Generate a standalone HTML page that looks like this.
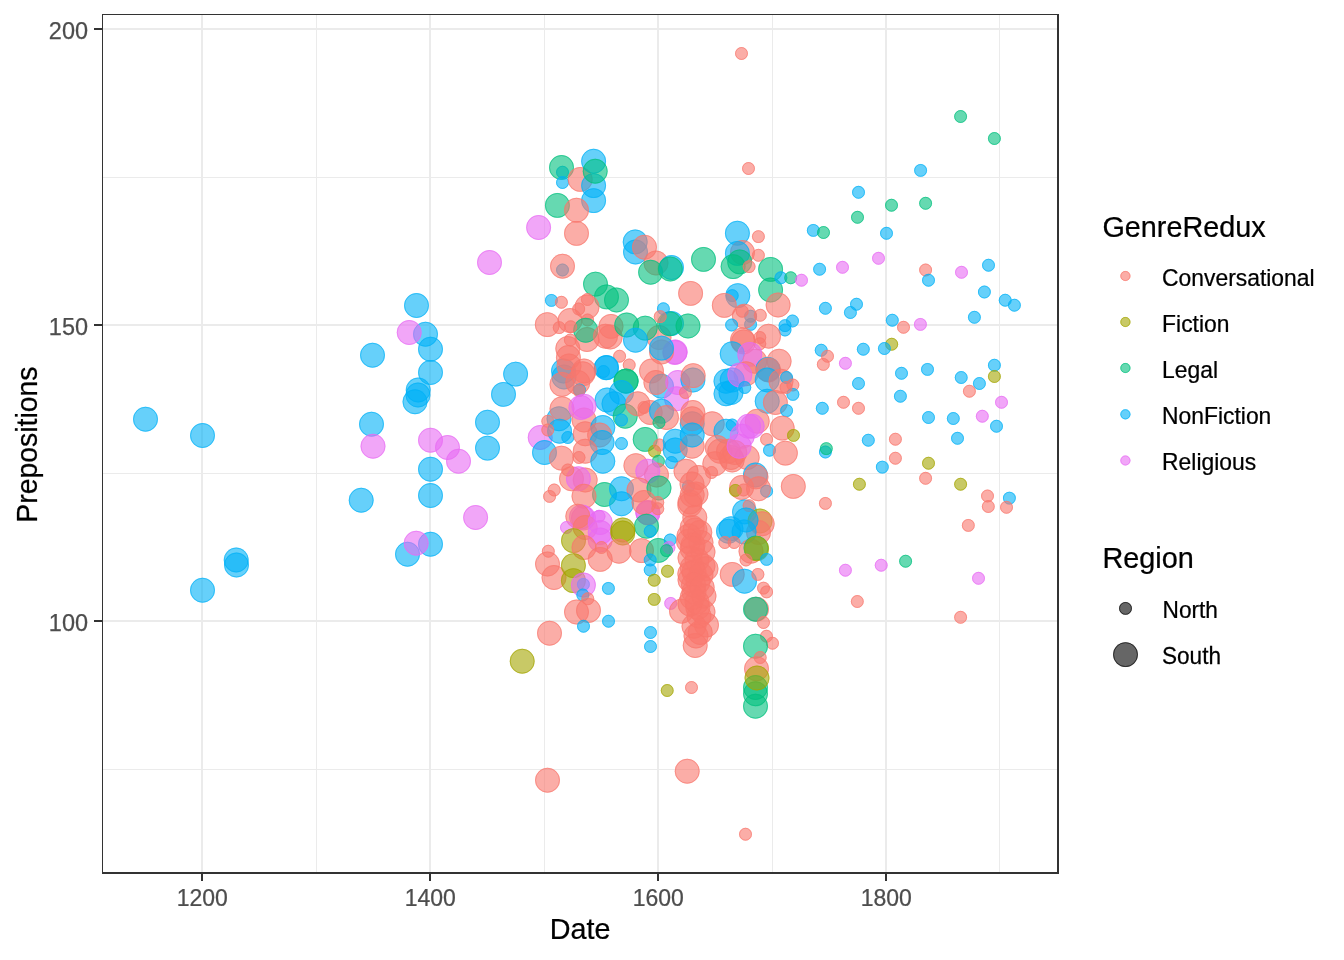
<!DOCTYPE html>
<html lang="en"><head><meta charset="utf-8"><title>Prepositions by Date</title>
<style>html,body{margin:0;padding:0;background:#fff}body{width:1344px;height:960px;overflow:hidden}svg{display:block}text{font-family:"Liberation Sans",Arial,sans-serif}.C{fill:#F8766D;stroke:#F8766D}.F{fill:#A3A500;stroke:#A3A500}.L{fill:#00BF7D;stroke:#00BF7D}.N{fill:#00B0F6;stroke:#00B0F6}.R{fill:#E76BF3;stroke:#E76BF3}.K{fill:#000;stroke:#000}.r{fill:none}.f{stroke:none}</style></head><body>
<svg width="1344" height="960" viewBox="0 0 1344 960">
<rect width="1344" height="960" fill="#fff"/>
<g fill="#EBEBEB" shape-rendering="crispEdges">
<rect x="316" y="15" width="1" height="857"/>
<rect x="544" y="15" width="1" height="857"/>
<rect x="772" y="15" width="1" height="857"/>
<rect x="999" y="15" width="1" height="857"/>
<rect x="103" y="177" width="954" height="1"/>
<rect x="103" y="473" width="954" height="1"/>
<rect x="103" y="769" width="954" height="1"/>
<rect x="201" y="15" width="2" height="857"/>
<rect x="429" y="15" width="2" height="857"/>
<rect x="657" y="15" width="2" height="857"/>
<rect x="885" y="15" width="2" height="857"/>
<rect x="103" y="28" width="954" height="2"/>
<rect x="103" y="324" width="954" height="2"/>
<rect x="103" y="620" width="954" height="2"/>
</g>
<g stroke-width="1" fill-opacity="0.6" stroke-opacity="0.6">
<circle class="N f" cx="145.5" cy="419.2" r="12.45"/><circle class="N r" cx="145.5" cy="419.2" r="11.95"/>
<circle class="N f" cx="202.5" cy="435.5" r="12.45"/><circle class="N r" cx="202.5" cy="435.5" r="11.95"/>
<circle class="N f" cx="416.5" cy="305.5" r="12.45"/><circle class="N r" cx="416.5" cy="305.5" r="11.95"/>
<circle class="N f" cx="425.5" cy="334.2" r="12.45"/><circle class="N r" cx="425.5" cy="334.2" r="11.95"/>
<circle class="R f" cx="409.2" cy="332.5" r="12.45"/><circle class="R r" cx="409.2" cy="332.5" r="11.95"/>
<circle class="N f" cx="430.5" cy="349.2" r="12.45"/><circle class="N r" cx="430.5" cy="349.2" r="11.95"/>
<circle class="N f" cx="372.5" cy="355.2" r="12.45"/><circle class="N r" cx="372.5" cy="355.2" r="11.95"/>
<circle class="N f" cx="430.5" cy="372.5" r="12.45"/><circle class="N r" cx="430.5" cy="372.5" r="11.95"/>
<circle class="N f" cx="418.2" cy="390.0" r="12.45"/><circle class="N r" cx="418.2" cy="390.0" r="11.95"/>
<circle class="N f" cx="418.0" cy="395.0" r="12.45"/><circle class="N r" cx="418.0" cy="395.0" r="11.95"/>
<circle class="N f" cx="415.0" cy="401.8" r="12.45"/><circle class="N r" cx="415.0" cy="401.8" r="11.95"/>
<circle class="N f" cx="371.5" cy="424.2" r="12.45"/><circle class="N r" cx="371.5" cy="424.2" r="11.95"/>
<circle class="R f" cx="373.0" cy="446.2" r="12.45"/><circle class="R r" cx="373.0" cy="446.2" r="11.95"/>
<circle class="R f" cx="430.5" cy="440.2" r="12.45"/><circle class="R r" cx="430.5" cy="440.2" r="11.95"/>
<circle class="R f" cx="447.5" cy="447.5" r="12.45"/><circle class="R r" cx="447.5" cy="447.5" r="11.95"/>
<circle class="N f" cx="430.5" cy="469.2" r="12.45"/><circle class="N r" cx="430.5" cy="469.2" r="11.95"/>
<circle class="N f" cx="430.5" cy="495.5" r="12.45"/><circle class="N r" cx="430.5" cy="495.5" r="11.95"/>
<circle class="N f" cx="361.2" cy="500.2" r="12.45"/><circle class="N r" cx="361.2" cy="500.2" r="11.95"/>
<circle class="N f" cx="236.2" cy="560.0" r="12.45"/><circle class="N r" cx="236.2" cy="560.0" r="11.95"/>
<circle class="N f" cx="236.5" cy="565.0" r="12.45"/><circle class="N r" cx="236.5" cy="565.0" r="11.95"/>
<circle class="N f" cx="202.5" cy="590.2" r="12.45"/><circle class="N r" cx="202.5" cy="590.2" r="11.95"/>
<circle class="N f" cx="430.5" cy="544.2" r="12.45"/><circle class="N r" cx="430.5" cy="544.2" r="11.95"/>
<circle class="N f" cx="407.5" cy="554.2" r="12.45"/><circle class="N r" cx="407.5" cy="554.2" r="11.95"/>
<circle class="R f" cx="416.2" cy="543.2" r="12.45"/><circle class="R r" cx="416.2" cy="543.2" r="11.95"/>
<circle class="R f" cx="458.5" cy="461.2" r="12.45"/><circle class="R r" cx="458.5" cy="461.2" r="11.95"/>
<circle class="R f" cx="475.6" cy="517.5" r="12.45"/><circle class="R r" cx="475.6" cy="517.5" r="11.95"/>
<circle class="R f" cx="489.5" cy="262.5" r="12.45"/><circle class="R r" cx="489.5" cy="262.5" r="11.95"/>
<circle class="R f" cx="538.6" cy="227.5" r="12.45"/><circle class="R r" cx="538.6" cy="227.5" r="11.95"/>
<circle class="N f" cx="515.6" cy="374.1" r="12.45"/><circle class="N r" cx="515.6" cy="374.1" r="11.95"/>
<circle class="N f" cx="503.5" cy="394.4" r="12.45"/><circle class="N r" cx="503.5" cy="394.4" r="11.95"/>
<circle class="N f" cx="487.5" cy="422.2" r="12.45"/><circle class="N r" cx="487.5" cy="422.2" r="11.95"/>
<circle class="N f" cx="487.5" cy="448.1" r="12.45"/><circle class="N r" cx="487.5" cy="448.1" r="11.95"/>
<circle class="N f" cx="562.5" cy="172.2" r="6.45"/><circle class="N r" cx="562.5" cy="172.2" r="5.95"/>
<circle class="L f" cx="561.5" cy="167.5" r="12.45"/><circle class="L r" cx="561.5" cy="167.5" r="11.95"/>
<circle class="N f" cx="562.5" cy="182.5" r="6.45"/><circle class="N r" cx="562.5" cy="182.5" r="5.95"/>
<circle class="C f" cx="580.2" cy="179.4" r="12.45"/><circle class="C r" cx="580.2" cy="179.4" r="11.95"/>
<circle class="N f" cx="593.6" cy="161.2" r="12.45"/><circle class="N r" cx="593.6" cy="161.2" r="11.95"/>
<circle class="N f" cx="593.6" cy="185.6" r="12.45"/><circle class="N r" cx="593.6" cy="185.6" r="11.95"/>
<circle class="L f" cx="595.2" cy="171.2" r="12.45"/><circle class="L r" cx="595.2" cy="171.2" r="11.95"/>
<circle class="N f" cx="593.6" cy="200.6" r="12.45"/><circle class="N r" cx="593.6" cy="200.6" r="11.95"/>
<circle class="L f" cx="557.4" cy="205.4" r="12.45"/><circle class="L r" cx="557.4" cy="205.4" r="11.95"/>
<circle class="C f" cx="576.5" cy="210.2" r="12.45"/><circle class="C r" cx="576.5" cy="210.2" r="11.95"/>
<circle class="C f" cx="576.5" cy="233.4" r="12.45"/><circle class="C r" cx="576.5" cy="233.4" r="11.95"/>
<circle class="N f" cx="635.2" cy="241.9" r="12.45"/><circle class="N r" cx="635.2" cy="241.9" r="11.95"/>
<circle class="N f" cx="635.5" cy="252.0" r="12.45"/><circle class="N r" cx="635.5" cy="252.0" r="11.95"/>
<circle class="C f" cx="644.5" cy="247.2" r="12.45"/><circle class="C r" cx="644.5" cy="247.2" r="11.95"/>
<circle class="C f" cx="656.0" cy="263.0" r="12.45"/><circle class="C r" cx="656.0" cy="263.0" r="11.95"/>
<circle class="N f" cx="562.5" cy="270.0" r="6.45"/><circle class="N r" cx="562.5" cy="270.0" r="5.95"/>
<circle class="C f" cx="562.5" cy="266.2" r="12.45"/><circle class="C r" cx="562.5" cy="266.2" r="11.95"/>
<circle class="L f" cx="595.5" cy="284.1" r="12.45"/><circle class="L r" cx="595.5" cy="284.1" r="11.95"/>
<circle class="L f" cx="606.5" cy="296.9" r="12.45"/><circle class="L r" cx="606.5" cy="296.9" r="11.95"/>
<circle class="L f" cx="616.5" cy="300.0" r="12.45"/><circle class="L r" cx="616.5" cy="300.0" r="11.95"/>
<circle class="N f" cx="551.4" cy="300.4" r="6.45"/><circle class="N r" cx="551.4" cy="300.4" r="5.95"/>
<circle class="C f" cx="561.4" cy="302.3" r="6.45"/><circle class="C r" cx="561.4" cy="302.3" r="5.95"/>
<circle class="C f" cx="547.3" cy="324.6" r="12.45"/><circle class="C r" cx="547.3" cy="324.6" r="11.95"/>
<circle class="C f" cx="559.2" cy="327.6" r="6.45"/><circle class="C r" cx="559.2" cy="327.6" r="5.95"/>
<circle class="C f" cx="570.0" cy="320.5" r="12.45"/><circle class="C r" cx="570.0" cy="320.5" r="11.95"/>
<circle class="C f" cx="587.0" cy="307.0" r="12.45"/><circle class="C r" cx="587.0" cy="307.0" r="11.95"/>
<circle class="C f" cx="587.4" cy="299.5" r="6.45"/><circle class="C r" cx="587.4" cy="299.5" r="5.95"/>
<circle class="C f" cx="578.7" cy="309.0" r="6.45"/><circle class="C r" cx="578.7" cy="309.0" r="5.95"/>
<circle class="C f" cx="587.6" cy="320.0" r="6.45"/><circle class="C r" cx="587.6" cy="320.0" r="5.95"/>
<circle class="C f" cx="587.0" cy="339.5" r="12.45"/><circle class="C r" cx="587.0" cy="339.5" r="11.95"/>
<circle class="L f" cx="585.7" cy="330.3" r="12.45"/><circle class="L r" cx="585.7" cy="330.3" r="11.95"/>
<circle class="C f" cx="570.7" cy="326.8" r="6.45"/><circle class="C r" cx="570.7" cy="326.8" r="5.95"/>
<circle class="C f" cx="570.3" cy="340.0" r="6.45"/><circle class="C r" cx="570.3" cy="340.0" r="5.95"/>
<circle class="N f" cx="563.5" cy="371.0" r="12.45"/><circle class="N r" cx="563.5" cy="371.0" r="11.95"/>
<circle class="N f" cx="564.0" cy="377.0" r="12.45"/><circle class="N r" cx="564.0" cy="377.0" r="11.95"/>
<circle class="C f" cx="567.8" cy="348.5" r="12.45"/><circle class="C r" cx="567.8" cy="348.5" r="11.95"/>
<circle class="C f" cx="568.4" cy="357.5" r="12.45"/><circle class="C r" cx="568.4" cy="357.5" r="11.95"/>
<circle class="C f" cx="569.0" cy="366.0" r="12.45"/><circle class="C r" cx="569.0" cy="366.0" r="11.95"/>
<circle class="C f" cx="611.0" cy="326.4" r="12.45"/><circle class="C r" cx="611.0" cy="326.4" r="11.95"/>
<circle class="C f" cx="610.2" cy="337.0" r="12.45"/><circle class="C r" cx="610.2" cy="337.0" r="11.95"/>
<circle class="C f" cx="605.5" cy="336.2" r="12.45"/><circle class="C r" cx="605.5" cy="336.2" r="11.95"/>
<circle class="L f" cx="626.7" cy="325.0" r="12.45"/><circle class="L r" cx="626.7" cy="325.0" r="11.95"/>
<circle class="C f" cx="659.0" cy="337.5" r="12.45"/><circle class="C r" cx="659.0" cy="337.5" r="11.95"/>
<circle class="L f" cx="645.2" cy="328.1" r="12.45"/><circle class="L r" cx="645.2" cy="328.1" r="11.95"/>
<circle class="N f" cx="671.5" cy="323.5" r="12.45"/><circle class="N r" cx="671.5" cy="323.5" r="11.95"/>
<circle class="L f" cx="669.6" cy="323.8" r="12.45"/><circle class="L r" cx="669.6" cy="323.8" r="11.95"/>
<circle class="N f" cx="635.5" cy="340.2" r="12.45"/><circle class="N r" cx="635.5" cy="340.2" r="11.95"/>
<circle class="N f" cx="663.4" cy="308.8" r="6.45"/><circle class="N r" cx="663.4" cy="308.8" r="5.95"/>
<circle class="C f" cx="660.2" cy="316.6" r="6.45"/><circle class="C r" cx="660.2" cy="316.6" r="5.95"/>
<circle class="L f" cx="650.6" cy="272.2" r="12.45"/><circle class="L r" cx="650.6" cy="272.2" r="11.95"/>
<circle class="N f" cx="671.5" cy="267.5" r="12.45"/><circle class="N r" cx="671.5" cy="267.5" r="11.95"/>
<circle class="L f" cx="670.3" cy="269.0" r="12.45"/><circle class="L r" cx="670.3" cy="269.0" r="11.95"/>
<circle class="R f" cx="675.2" cy="351.9" r="12.45"/><circle class="R r" cx="675.2" cy="351.9" r="11.95"/>
<circle class="R f" cx="674.8" cy="352.5" r="12.45"/><circle class="R r" cx="674.8" cy="352.5" r="11.95"/>
<circle class="C f" cx="661.5" cy="352.0" r="12.45"/><circle class="C r" cx="661.5" cy="352.0" r="11.95"/>
<circle class="N f" cx="661.5" cy="348.1" r="12.45"/><circle class="N r" cx="661.5" cy="348.1" r="11.95"/>
<circle class="C f" cx="619.6" cy="356.2" r="6.45"/><circle class="C r" cx="619.6" cy="356.2" r="5.95"/>
<circle class="C f" cx="629.2" cy="365.0" r="6.45"/><circle class="C r" cx="629.2" cy="365.0" r="5.95"/>
<circle class="N f" cx="606.5" cy="367.5" r="12.45"/><circle class="N r" cx="606.5" cy="367.5" r="11.95"/>
<circle class="N f" cx="606.2" cy="367.8" r="12.45"/><circle class="N r" cx="606.2" cy="367.8" r="11.95"/>
<circle class="N f" cx="603.5" cy="371.5" r="6.45"/><circle class="N r" cx="603.5" cy="371.5" r="5.95"/>
<circle class="C f" cx="651.5" cy="371.0" r="12.45"/><circle class="C r" cx="651.5" cy="371.0" r="11.95"/>
<circle class="C f" cx="584.0" cy="371.0" r="12.45"/><circle class="C r" cx="584.0" cy="371.0" r="11.95"/>
<circle class="C f" cx="562.0" cy="384.4" r="12.45"/><circle class="C r" cx="562.0" cy="384.4" r="11.95"/>
<circle class="C f" cx="577.8" cy="382.5" r="12.45"/><circle class="C r" cx="577.8" cy="382.5" r="11.95"/>
<circle class="C f" cx="582.8" cy="373.8" r="12.45"/><circle class="C r" cx="582.8" cy="373.8" r="11.95"/>
<circle class="N f" cx="579.5" cy="390.0" r="6.45"/><circle class="N r" cx="579.5" cy="390.0" r="5.95"/>
<circle class="C f" cx="579.0" cy="390.6" r="6.45"/><circle class="C r" cx="579.0" cy="390.6" r="5.95"/>
<circle class="L f" cx="625.9" cy="381.2" r="12.45"/><circle class="L r" cx="625.9" cy="381.2" r="11.95"/>
<circle class="L f" cx="626.2" cy="381.0" r="12.45"/><circle class="L r" cx="626.2" cy="381.0" r="11.95"/>
<circle class="N f" cx="621.5" cy="392.5" r="12.45"/><circle class="N r" cx="621.5" cy="392.5" r="11.95"/>
<circle class="N f" cx="607.1" cy="400.0" r="12.45"/><circle class="N r" cx="607.1" cy="400.0" r="11.95"/>
<circle class="N f" cx="614.0" cy="403.8" r="12.45"/><circle class="N r" cx="614.0" cy="403.8" r="11.95"/>
<circle class="L f" cx="625.2" cy="416.2" r="12.45"/><circle class="L r" cx="625.2" cy="416.2" r="11.95"/>
<circle class="N f" cx="621.5" cy="420.0" r="6.45"/><circle class="N r" cx="621.5" cy="420.0" r="5.95"/>
<circle class="C f" cx="637.8" cy="403.8" r="12.45"/><circle class="C r" cx="637.8" cy="403.8" r="11.95"/>
<circle class="C f" cx="650.2" cy="412.5" r="12.45"/><circle class="C r" cx="650.2" cy="412.5" r="11.95"/>
<circle class="C f" cx="644.0" cy="407.5" r="6.45"/><circle class="C r" cx="644.0" cy="407.5" r="5.95"/>
<circle class="N f" cx="661.5" cy="386.2" r="12.45"/><circle class="N r" cx="661.5" cy="386.2" r="11.95"/>
<circle class="C f" cx="655.9" cy="382.5" r="12.45"/><circle class="C r" cx="655.9" cy="382.5" r="11.95"/>
<circle class="R f" cx="677.8" cy="382.5" r="12.45"/><circle class="R r" cx="677.8" cy="382.5" r="11.95"/>
<circle class="R f" cx="676.5" cy="398.8" r="12.45"/><circle class="R r" cx="676.5" cy="398.8" r="11.95"/>
<circle class="N f" cx="661.5" cy="411.2" r="12.45"/><circle class="N r" cx="661.5" cy="411.2" r="11.95"/>
<circle class="C f" cx="666.5" cy="417.5" r="12.45"/><circle class="C r" cx="666.5" cy="417.5" r="11.95"/>
<circle class="L f" cx="659.0" cy="422.5" r="6.45"/><circle class="L r" cx="659.0" cy="422.5" r="5.95"/>
<circle class="N f" cx="559.0" cy="418.8" r="12.45"/><circle class="N r" cx="559.0" cy="418.8" r="11.95"/>
<circle class="C f" cx="562.0" cy="408.8" r="12.45"/><circle class="C r" cx="562.0" cy="408.8" r="11.95"/>
<circle class="C f" cx="584.0" cy="420.0" r="12.45"/><circle class="C r" cx="584.0" cy="420.0" r="11.95"/>
<circle class="R f" cx="580.9" cy="407.5" r="12.45"/><circle class="R r" cx="580.9" cy="407.5" r="11.95"/>
<circle class="R f" cx="584.0" cy="406.2" r="12.45"/><circle class="R r" cx="584.0" cy="406.2" r="11.95"/>
<circle class="C f" cx="547.8" cy="421.2" r="6.45"/><circle class="C r" cx="547.8" cy="421.2" r="5.95"/>
<circle class="R f" cx="540.2" cy="437.5" r="12.45"/><circle class="R r" cx="540.2" cy="437.5" r="11.95"/>
<circle class="N f" cx="559.6" cy="431.2" r="12.45"/><circle class="N r" cx="559.6" cy="431.2" r="11.95"/>
<circle class="C f" cx="547.8" cy="430.0" r="6.45"/><circle class="C r" cx="547.8" cy="430.0" r="5.95"/>
<circle class="N f" cx="567.8" cy="437.5" r="6.45"/><circle class="N r" cx="567.8" cy="437.5" r="5.95"/>
<circle class="C f" cx="585.2" cy="433.8" r="12.45"/><circle class="C r" cx="585.2" cy="433.8" r="11.95"/>
<circle class="N f" cx="602.8" cy="427.5" r="12.45"/><circle class="N r" cx="602.8" cy="427.5" r="11.95"/>
<circle class="C f" cx="599.6" cy="435.0" r="12.45"/><circle class="C r" cx="599.6" cy="435.0" r="11.95"/>
<circle class="N f" cx="602.1" cy="442.5" r="12.45"/><circle class="N r" cx="602.1" cy="442.5" r="11.95"/>
<circle class="N f" cx="621.5" cy="443.5" r="6.45"/><circle class="N r" cx="621.5" cy="443.5" r="5.95"/>
<circle class="L f" cx="645.2" cy="439.4" r="12.45"/><circle class="L r" cx="645.2" cy="439.4" r="11.95"/>
<circle class="N f" cx="544.5" cy="452.5" r="12.45"/><circle class="N r" cx="544.5" cy="452.5" r="11.95"/>
<circle class="C f" cx="561.4" cy="458.1" r="12.45"/><circle class="C r" cx="561.4" cy="458.1" r="11.95"/>
<circle class="C f" cx="585.2" cy="451.2" r="12.45"/><circle class="C r" cx="585.2" cy="451.2" r="11.95"/>
<circle class="C f" cx="579.0" cy="457.5" r="6.45"/><circle class="C r" cx="579.0" cy="457.5" r="5.95"/>
<circle class="N f" cx="602.8" cy="461.2" r="12.45"/><circle class="N r" cx="602.8" cy="461.2" r="11.95"/>
<circle class="F f" cx="654.6" cy="451.2" r="6.45"/><circle class="F r" cx="654.6" cy="451.2" r="5.95"/>
<circle class="C f" cx="659.6" cy="445.0" r="6.45"/><circle class="C r" cx="659.6" cy="445.0" r="5.95"/>
<circle class="L f" cx="658.4" cy="461.2" r="6.45"/><circle class="L r" cx="658.4" cy="461.2" r="5.95"/>
<circle class="N f" cx="675.2" cy="441.2" r="12.45"/><circle class="N r" cx="675.2" cy="441.2" r="11.95"/>
<circle class="N f" cx="675.2" cy="450.0" r="12.45"/><circle class="N r" cx="675.2" cy="450.0" r="11.95"/>
<circle class="N f" cx="671.5" cy="462.5" r="6.45"/><circle class="N r" cx="671.5" cy="462.5" r="5.95"/>
<circle class="C f" cx="635.9" cy="465.6" r="12.45"/><circle class="C r" cx="635.9" cy="465.6" r="11.95"/>
<circle class="C f" cx="656.5" cy="475.0" r="12.45"/><circle class="C r" cx="656.5" cy="475.0" r="11.95"/>
<circle class="R f" cx="647.8" cy="471.2" r="12.45"/><circle class="R r" cx="647.8" cy="471.2" r="11.95"/>
<circle class="C f" cx="571.5" cy="478.8" r="12.45"/><circle class="C r" cx="571.5" cy="478.8" r="11.95"/>
<circle class="C f" cx="585.2" cy="480.0" r="12.45"/><circle class="C r" cx="585.2" cy="480.0" r="11.95"/>
<circle class="R f" cx="578.4" cy="478.8" r="12.45"/><circle class="R r" cx="578.4" cy="478.8" r="11.95"/>
<circle class="C f" cx="567.8" cy="470.0" r="6.45"/><circle class="C r" cx="567.8" cy="470.0" r="5.95"/>
<circle class="C f" cx="554.2" cy="490.0" r="6.45"/><circle class="C r" cx="554.2" cy="490.0" r="5.95"/>
<circle class="L f" cx="604.5" cy="494.5" r="12.45"/><circle class="L r" cx="604.5" cy="494.5" r="11.95"/>
<circle class="N f" cx="621.5" cy="488.8" r="12.45"/><circle class="N r" cx="621.5" cy="488.8" r="11.95"/>
<circle class="C f" cx="639.0" cy="490.0" r="12.45"/><circle class="C r" cx="639.0" cy="490.0" r="11.95"/>
<circle class="L f" cx="659.0" cy="488.0" r="12.45"/><circle class="L r" cx="659.0" cy="488.0" r="11.95"/>
<circle class="C f" cx="549.6" cy="496.4" r="6.45"/><circle class="C r" cx="549.6" cy="496.4" r="5.95"/>
<circle class="C f" cx="584.0" cy="496.2" r="12.45"/><circle class="C r" cx="584.0" cy="496.2" r="11.95"/>
<circle class="N f" cx="621.5" cy="503.8" r="12.45"/><circle class="N r" cx="621.5" cy="503.8" r="11.95"/>
<circle class="R f" cx="647.8" cy="512.5" r="12.45"/><circle class="R r" cx="647.8" cy="512.5" r="11.95"/>
<circle class="R f" cx="648.0" cy="513.0" r="12.45"/><circle class="R r" cx="648.0" cy="513.0" r="11.95"/>
<circle class="C f" cx="644.0" cy="502.5" r="12.45"/><circle class="C r" cx="644.0" cy="502.5" r="11.95"/>
<circle class="C f" cx="657.8" cy="502.5" r="6.45"/><circle class="C r" cx="657.8" cy="502.5" r="5.95"/>
<circle class="C f" cx="657.8" cy="508.8" r="6.45"/><circle class="C r" cx="657.8" cy="508.8" r="5.95"/>
<circle class="L f" cx="646.5" cy="526.2" r="12.45"/><circle class="L r" cx="646.5" cy="526.2" r="11.95"/>
<circle class="N f" cx="650.2" cy="531.2" r="6.45"/><circle class="N r" cx="650.2" cy="531.2" r="5.95"/>
<circle class="R f" cx="581.5" cy="516.9" r="12.45"/><circle class="R r" cx="581.5" cy="516.9" r="11.95"/>
<circle class="R f" cx="583.5" cy="518.0" r="12.45"/><circle class="R r" cx="583.5" cy="518.0" r="11.95"/>
<circle class="C f" cx="577.8" cy="516.2" r="12.45"/><circle class="C r" cx="577.8" cy="516.2" r="11.95"/>
<circle class="R f" cx="566.5" cy="527.5" r="6.45"/><circle class="R r" cx="566.5" cy="527.5" r="5.95"/>
<circle class="C f" cx="585.2" cy="527.5" r="12.45"/><circle class="C r" cx="585.2" cy="527.5" r="11.95"/>
<circle class="R f" cx="600.2" cy="522.5" r="12.45"/><circle class="R r" cx="600.2" cy="522.5" r="11.95"/>
<circle class="R f" cx="599.0" cy="516.2" r="6.45"/><circle class="R r" cx="599.0" cy="516.2" r="5.95"/>
<circle class="R f" cx="600.2" cy="532.5" r="12.45"/><circle class="R r" cx="600.2" cy="532.5" r="11.95"/>
<circle class="R f" cx="600.2" cy="540.0" r="12.45"/><circle class="R r" cx="600.2" cy="540.0" r="11.95"/>
<circle class="F f" cx="622.8" cy="530.0" r="12.45"/><circle class="F r" cx="622.8" cy="530.0" r="11.95"/>
<circle class="F f" cx="622.8" cy="533.0" r="12.45"/><circle class="F r" cx="622.8" cy="533.0" r="11.95"/>
<circle class="F f" cx="573.5" cy="540.6" r="12.45"/><circle class="F r" cx="573.5" cy="540.6" r="11.95"/>
<circle class="C f" cx="584.0" cy="547.5" r="12.45"/><circle class="C r" cx="584.0" cy="547.5" r="11.95"/>
<circle class="C f" cx="600.2" cy="559.4" r="12.45"/><circle class="C r" cx="600.2" cy="559.4" r="11.95"/>
<circle class="C f" cx="601.5" cy="547.5" r="6.45"/><circle class="C r" cx="601.5" cy="547.5" r="5.95"/>
<circle class="C f" cx="619.0" cy="551.2" r="12.45"/><circle class="C r" cx="619.0" cy="551.2" r="11.95"/>
<circle class="C f" cx="641.5" cy="550.6" r="12.45"/><circle class="C r" cx="641.5" cy="550.6" r="11.95"/>
<circle class="L f" cx="658.4" cy="550.4" r="12.45"/><circle class="L r" cx="658.4" cy="550.4" r="11.95"/>
<circle class="N f" cx="670.2" cy="540.0" r="6.45"/><circle class="N r" cx="670.2" cy="540.0" r="5.95"/>
<circle class="R f" cx="669.0" cy="547.5" r="6.45"/><circle class="R r" cx="669.0" cy="547.5" r="5.95"/>
<circle class="L f" cx="666.5" cy="550.6" r="6.45"/><circle class="L r" cx="666.5" cy="550.6" r="5.95"/>
<circle class="N f" cx="650.2" cy="560.0" r="6.45"/><circle class="N r" cx="650.2" cy="560.0" r="5.95"/>
<circle class="N f" cx="650.2" cy="570.0" r="6.45"/><circle class="N r" cx="650.2" cy="570.0" r="5.95"/>
<circle class="F f" cx="667.5" cy="571.2" r="6.45"/><circle class="F r" cx="667.5" cy="571.2" r="5.95"/>
<circle class="F f" cx="654.2" cy="580.2" r="6.45"/><circle class="F r" cx="654.2" cy="580.2" r="5.95"/>
<circle class="F f" cx="654.2" cy="599.4" r="6.45"/><circle class="F r" cx="654.2" cy="599.4" r="5.95"/>
<circle class="R f" cx="670.7" cy="603.4" r="6.45"/><circle class="R r" cx="670.7" cy="603.4" r="5.95"/>
<circle class="N f" cx="608.4" cy="588.4" r="6.45"/><circle class="N r" cx="608.4" cy="588.4" r="5.95"/>
<circle class="C f" cx="548.3" cy="551.2" r="6.45"/><circle class="C r" cx="548.3" cy="551.2" r="5.95"/>
<circle class="C f" cx="547.5" cy="564.0" r="12.45"/><circle class="C r" cx="547.5" cy="564.0" r="11.95"/>
<circle class="C f" cx="554.0" cy="577.5" r="12.45"/><circle class="C r" cx="554.0" cy="577.5" r="11.95"/>
<circle class="F f" cx="573.4" cy="565.6" r="12.45"/><circle class="F r" cx="573.4" cy="565.6" r="11.95"/>
<circle class="F f" cx="573.4" cy="580.6" r="12.45"/><circle class="F r" cx="573.4" cy="580.6" r="11.95"/>
<circle class="N f" cx="583.4" cy="584.4" r="6.45"/><circle class="N r" cx="583.4" cy="584.4" r="5.95"/>
<circle class="R f" cx="583.4" cy="585.0" r="12.45"/><circle class="R r" cx="583.4" cy="585.0" r="11.95"/>
<circle class="N f" cx="582.8" cy="595.0" r="6.45"/><circle class="N r" cx="582.8" cy="595.0" r="5.95"/>
<circle class="C f" cx="587.8" cy="598.8" r="6.45"/><circle class="C r" cx="587.8" cy="598.8" r="5.95"/>
<circle class="C f" cx="576.5" cy="612.0" r="12.45"/><circle class="C r" cx="576.5" cy="612.0" r="11.95"/>
<circle class="C f" cx="588.5" cy="610.5" r="12.45"/><circle class="C r" cx="588.5" cy="610.5" r="11.95"/>
<circle class="N f" cx="583.5" cy="626.2" r="6.45"/><circle class="N r" cx="583.5" cy="626.2" r="5.95"/>
<circle class="N f" cx="608.5" cy="621.2" r="6.45"/><circle class="N r" cx="608.5" cy="621.2" r="5.95"/>
<circle class="C f" cx="549.5" cy="633.2" r="12.45"/><circle class="C r" cx="549.5" cy="633.2" r="11.95"/>
<circle class="F f" cx="522.2" cy="661.2" r="12.45"/><circle class="F r" cx="522.2" cy="661.2" r="11.95"/>
<circle class="N f" cx="650.5" cy="632.5" r="6.45"/><circle class="N r" cx="650.5" cy="632.5" r="5.95"/>
<circle class="N f" cx="650.5" cy="646.5" r="6.45"/><circle class="N r" cx="650.5" cy="646.5" r="5.95"/>
<circle class="C f" cx="681.5" cy="611.2" r="12.45"/><circle class="C r" cx="681.5" cy="611.2" r="11.95"/>
<circle class="C f" cx="697.8" cy="607.5" r="12.45"/><circle class="C r" cx="697.8" cy="607.5" r="11.95"/>
<circle class="C f" cx="706.5" cy="625.0" r="12.45"/><circle class="C r" cx="706.5" cy="625.0" r="11.95"/>
<circle class="C f" cx="694.0" cy="626.2" r="12.45"/><circle class="C r" cx="694.0" cy="626.2" r="11.95"/>
<circle class="C f" cx="700.2" cy="632.5" r="12.45"/><circle class="C r" cx="700.2" cy="632.5" r="11.95"/>
<circle class="C f" cx="695.2" cy="645.5" r="12.45"/><circle class="C r" cx="695.2" cy="645.5" r="11.95"/>
<circle class="C f" cx="756.5" cy="609.2" r="12.45"/><circle class="C r" cx="756.5" cy="609.2" r="11.95"/>
<circle class="L f" cx="755.5" cy="609.2" r="12.45"/><circle class="L r" cx="755.5" cy="609.2" r="11.95"/>
<circle class="C f" cx="763.5" cy="622.5" r="6.45"/><circle class="C r" cx="763.5" cy="622.5" r="5.95"/>
<circle class="C f" cx="766.5" cy="636.2" r="6.45"/><circle class="C r" cx="766.5" cy="636.2" r="5.95"/>
<circle class="C f" cx="772.5" cy="643.2" r="6.45"/><circle class="C r" cx="772.5" cy="643.2" r="5.95"/>
<circle class="L f" cx="755.5" cy="646.2" r="12.45"/><circle class="L r" cx="755.5" cy="646.2" r="11.95"/>
<circle class="C f" cx="760.2" cy="657.5" r="6.45"/><circle class="C r" cx="760.2" cy="657.5" r="5.95"/>
<circle class="C f" cx="756.5" cy="668.8" r="12.45"/><circle class="C r" cx="756.5" cy="668.8" r="11.95"/>
<circle class="L f" cx="755.5" cy="687.5" r="12.45"/><circle class="L r" cx="755.5" cy="687.5" r="11.95"/>
<circle class="L f" cx="755.5" cy="693.8" r="12.45"/><circle class="L r" cx="755.5" cy="693.8" r="11.95"/>
<circle class="F f" cx="757.0" cy="678.0" r="12.45"/><circle class="F r" cx="757.0" cy="678.0" r="11.95"/>
<circle class="L f" cx="755.5" cy="706.2" r="12.45"/><circle class="L r" cx="755.5" cy="706.2" r="11.95"/>
<circle class="F f" cx="667.2" cy="690.5" r="6.45"/><circle class="F r" cx="667.2" cy="690.5" r="5.95"/>
<circle class="C f" cx="691.5" cy="687.5" r="6.45"/><circle class="C r" cx="691.5" cy="687.5" r="5.95"/>
<circle class="C f" cx="687.2" cy="771.2" r="12.45"/><circle class="C r" cx="687.2" cy="771.2" r="11.95"/>
<circle class="C f" cx="547.5" cy="780.2" r="12.45"/><circle class="C r" cx="547.5" cy="780.2" r="11.95"/>
<circle class="C f" cx="745.5" cy="834.2" r="6.45"/><circle class="C r" cx="745.5" cy="834.2" r="5.95"/>
<circle class="N f" cx="737.4" cy="233.2" r="12.45"/><circle class="N r" cx="737.4" cy="233.2" r="11.95"/>
<circle class="C f" cx="758.4" cy="236.6" r="6.45"/><circle class="C r" cx="758.4" cy="236.6" r="5.95"/>
<circle class="C f" cx="742.5" cy="252.5" r="12.45"/><circle class="C r" cx="742.5" cy="252.5" r="11.95"/>
<circle class="N f" cx="737.4" cy="253.4" r="12.45"/><circle class="N r" cx="737.4" cy="253.4" r="11.95"/>
<circle class="C f" cx="758.4" cy="255.3" r="6.45"/><circle class="C r" cx="758.4" cy="255.3" r="5.95"/>
<circle class="L f" cx="739.7" cy="261.9" r="12.45"/><circle class="L r" cx="739.7" cy="261.9" r="11.95"/>
<circle class="L f" cx="733.1" cy="266.6" r="12.45"/><circle class="L r" cx="733.1" cy="266.6" r="11.95"/>
<circle class="C f" cx="749.1" cy="266.6" r="6.45"/><circle class="C r" cx="749.1" cy="266.6" r="5.95"/>
<circle class="L f" cx="703.5" cy="259.4" r="12.45"/><circle class="L r" cx="703.5" cy="259.4" r="11.95"/>
<circle class="L f" cx="770.6" cy="269.4" r="12.45"/><circle class="L r" cx="770.6" cy="269.4" r="11.95"/>
<circle class="L f" cx="770.6" cy="290.0" r="12.45"/><circle class="L r" cx="770.6" cy="290.0" r="11.95"/>
<circle class="N f" cx="780.9" cy="277.8" r="6.45"/><circle class="N r" cx="780.9" cy="277.8" r="5.95"/>
<circle class="L f" cx="790.7" cy="277.8" r="6.45"/><circle class="L r" cx="790.7" cy="277.8" r="5.95"/>
<circle class="C f" cx="690.6" cy="293.4" r="12.45"/><circle class="C r" cx="690.6" cy="293.4" r="11.95"/>
<circle class="N f" cx="732.2" cy="295.6" r="6.45"/><circle class="N r" cx="732.2" cy="295.6" r="5.95"/>
<circle class="N f" cx="737.8" cy="295.6" r="12.45"/><circle class="N r" cx="737.8" cy="295.6" r="11.95"/>
<circle class="C f" cx="724.3" cy="305.4" r="12.45"/><circle class="C r" cx="724.3" cy="305.4" r="11.95"/>
<circle class="C f" cx="778.1" cy="305.0" r="12.45"/><circle class="C r" cx="778.1" cy="305.0" r="11.95"/>
<circle class="N f" cx="750.6" cy="316.2" r="6.45"/><circle class="N r" cx="750.6" cy="316.2" r="5.95"/>
<circle class="N f" cx="750.6" cy="324.4" r="6.45"/><circle class="N r" cx="750.6" cy="324.4" r="5.95"/>
<circle class="C f" cx="744.4" cy="316.2" r="12.45"/><circle class="C r" cx="744.4" cy="316.2" r="11.95"/>
<circle class="C f" cx="760.3" cy="315.3" r="6.45"/><circle class="C r" cx="760.3" cy="315.3" r="5.95"/>
<circle class="C f" cx="742.2" cy="311.2" r="6.45"/><circle class="C r" cx="742.2" cy="311.2" r="5.95"/>
<circle class="N f" cx="731.6" cy="325.0" r="6.45"/><circle class="N r" cx="731.6" cy="325.0" r="5.95"/>
<circle class="N f" cx="792.5" cy="321.0" r="6.45"/><circle class="N r" cx="792.5" cy="321.0" r="5.95"/>
<circle class="N f" cx="785.0" cy="325.6" r="6.45"/><circle class="N r" cx="785.0" cy="325.6" r="5.95"/>
<circle class="N f" cx="785.0" cy="330.0" r="6.45"/><circle class="N r" cx="785.0" cy="330.0" r="5.95"/>
<circle class="L f" cx="688.0" cy="326.0" r="12.45"/><circle class="L r" cx="688.0" cy="326.0" r="11.95"/>
<circle class="C f" cx="768.5" cy="336.2" r="12.45"/><circle class="C r" cx="768.5" cy="336.2" r="11.95"/>
<circle class="C f" cx="743.5" cy="341.9" r="12.45"/><circle class="C r" cx="743.5" cy="341.9" r="11.95"/>
<circle class="C f" cx="742.5" cy="340.0" r="12.45"/><circle class="C r" cx="742.5" cy="340.0" r="11.95"/>
<circle class="C f" cx="759.8" cy="337.5" r="6.45"/><circle class="C r" cx="759.8" cy="337.5" r="5.95"/>
<circle class="C f" cx="759.8" cy="343.8" r="6.45"/><circle class="C r" cx="759.8" cy="343.8" r="5.95"/>
<circle class="N f" cx="732.2" cy="353.8" r="12.45"/><circle class="N r" cx="732.2" cy="353.8" r="11.95"/>
<circle class="C f" cx="754.8" cy="361.2" r="12.45"/><circle class="C r" cx="754.8" cy="361.2" r="11.95"/>
<circle class="R f" cx="749.8" cy="354.4" r="12.45"/><circle class="R r" cx="749.8" cy="354.4" r="11.95"/>
<circle class="C f" cx="779.1" cy="361.2" r="12.45"/><circle class="C r" cx="779.1" cy="361.2" r="11.95"/>
<circle class="N f" cx="767.9" cy="369.4" r="12.45"/><circle class="N r" cx="767.9" cy="369.4" r="11.95"/>
<circle class="C f" cx="768.5" cy="370.0" r="12.45"/><circle class="C r" cx="768.5" cy="370.0" r="11.95"/>
<circle class="C f" cx="746.0" cy="373.8" r="12.45"/><circle class="C r" cx="746.0" cy="373.8" r="11.95"/>
<circle class="N f" cx="726.0" cy="381.2" r="12.45"/><circle class="N r" cx="726.0" cy="381.2" r="11.95"/>
<circle class="N f" cx="732.2" cy="380.0" r="12.45"/><circle class="N r" cx="732.2" cy="380.0" r="11.95"/>
<circle class="N f" cx="726.0" cy="393.8" r="12.45"/><circle class="N r" cx="726.0" cy="393.8" r="11.95"/>
<circle class="N f" cx="731.0" cy="392.5" r="12.45"/><circle class="N r" cx="731.0" cy="392.5" r="11.95"/>
<circle class="R f" cx="739.8" cy="375.0" r="12.45"/><circle class="R r" cx="739.8" cy="375.0" r="11.95"/>
<circle class="N f" cx="744.8" cy="387.5" r="6.45"/><circle class="N r" cx="744.8" cy="387.5" r="5.95"/>
<circle class="N f" cx="767.2" cy="380.0" r="12.45"/><circle class="N r" cx="767.2" cy="380.0" r="11.95"/>
<circle class="C f" cx="781.0" cy="381.2" r="12.45"/><circle class="C r" cx="781.0" cy="381.2" r="11.95"/>
<circle class="N f" cx="786.6" cy="377.5" r="6.45"/><circle class="N r" cx="786.6" cy="377.5" r="5.95"/>
<circle class="C f" cx="792.9" cy="385.0" r="6.45"/><circle class="C r" cx="792.9" cy="385.0" r="5.95"/>
<circle class="N f" cx="792.9" cy="394.4" r="6.45"/><circle class="N r" cx="792.9" cy="394.4" r="5.95"/>
<circle class="C f" cx="786.0" cy="387.5" r="6.45"/><circle class="C r" cx="786.0" cy="387.5" r="5.95"/>
<circle class="N f" cx="767.2" cy="401.2" r="12.45"/><circle class="N r" cx="767.2" cy="401.2" r="11.95"/>
<circle class="C f" cx="775.4" cy="402.5" r="12.45"/><circle class="C r" cx="775.4" cy="402.5" r="11.95"/>
<circle class="N f" cx="786.6" cy="410.6" r="6.45"/><circle class="N r" cx="786.6" cy="410.6" r="5.95"/>
<circle class="N f" cx="692.9" cy="380.0" r="12.45"/><circle class="N r" cx="692.9" cy="380.0" r="11.95"/>
<circle class="C f" cx="693.2" cy="375.6" r="12.45"/><circle class="C r" cx="693.2" cy="375.6" r="11.95"/>
<circle class="C f" cx="685.4" cy="392.5" r="6.45"/><circle class="C r" cx="685.4" cy="392.5" r="5.95"/>
<circle class="N f" cx="692.2" cy="423.8" r="12.45"/><circle class="N r" cx="692.2" cy="423.8" r="11.95"/>
<circle class="C f" cx="692.9" cy="412.5" r="12.45"/><circle class="C r" cx="692.9" cy="412.5" r="11.95"/>
<circle class="C f" cx="692.2" cy="418.8" r="12.45"/><circle class="C r" cx="692.2" cy="418.8" r="11.95"/>
<circle class="C f" cx="712.2" cy="423.8" r="12.45"/><circle class="C r" cx="712.2" cy="423.8" r="11.95"/>
<circle class="C f" cx="757.2" cy="421.2" r="12.45"/><circle class="C r" cx="757.2" cy="421.2" r="11.95"/>
<circle class="C f" cx="692.2" cy="446.2" r="12.45"/><circle class="C r" cx="692.2" cy="446.2" r="11.95"/>
<circle class="N f" cx="692.2" cy="435.0" r="12.45"/><circle class="N r" cx="692.2" cy="435.0" r="11.95"/>
<circle class="N f" cx="726.0" cy="431.2" r="12.45"/><circle class="N r" cx="726.0" cy="431.2" r="11.95"/>
<circle class="N f" cx="732.2" cy="425.0" r="6.45"/><circle class="N r" cx="732.2" cy="425.0" r="5.95"/>
<circle class="R f" cx="748.5" cy="426.2" r="12.45"/><circle class="R r" cx="748.5" cy="426.2" r="11.95"/>
<circle class="R f" cx="752.2" cy="426.2" r="12.45"/><circle class="R r" cx="752.2" cy="426.2" r="11.95"/>
<circle class="R f" cx="742.2" cy="436.2" r="12.45"/><circle class="R r" cx="742.2" cy="436.2" r="11.95"/>
<circle class="C f" cx="782.2" cy="428.1" r="12.45"/><circle class="C r" cx="782.2" cy="428.1" r="11.95"/>
<circle class="F f" cx="793.5" cy="435.4" r="6.45"/><circle class="F r" cx="793.5" cy="435.4" r="5.95"/>
<circle class="C f" cx="766.6" cy="439.4" r="6.45"/><circle class="C r" cx="766.6" cy="439.4" r="5.95"/>
<circle class="N f" cx="769.5" cy="450.2" r="6.45"/><circle class="N r" cx="769.5" cy="450.2" r="5.95"/>
<circle class="C f" cx="785.4" cy="453.1" r="12.45"/><circle class="C r" cx="785.4" cy="453.1" r="11.95"/>
<circle class="C f" cx="717.2" cy="447.5" r="12.45"/><circle class="C r" cx="717.2" cy="447.5" r="11.95"/>
<circle class="C f" cx="719.8" cy="451.2" r="12.45"/><circle class="C r" cx="719.8" cy="451.2" r="11.95"/>
<circle class="C f" cx="732.2" cy="460.0" r="12.45"/><circle class="C r" cx="732.2" cy="460.0" r="11.95"/>
<circle class="C f" cx="728.5" cy="451.2" r="12.45"/><circle class="C r" cx="728.5" cy="451.2" r="11.95"/>
<circle class="C f" cx="731.0" cy="457.5" r="12.45"/><circle class="C r" cx="731.0" cy="457.5" r="11.95"/>
<circle class="C f" cx="734.8" cy="452.5" r="12.45"/><circle class="C r" cx="734.8" cy="452.5" r="11.95"/>
<circle class="C f" cx="747.2" cy="457.5" r="12.45"/><circle class="C r" cx="747.2" cy="457.5" r="11.95"/>
<circle class="R f" cx="739.1" cy="446.2" r="12.45"/><circle class="R r" cx="739.1" cy="446.2" r="11.95"/>
<circle class="C f" cx="714.8" cy="463.8" r="12.45"/><circle class="C r" cx="714.8" cy="463.8" r="11.95"/>
<circle class="C f" cx="711.6" cy="472.5" r="6.45"/><circle class="C r" cx="711.6" cy="472.5" r="5.95"/>
<circle class="N f" cx="688.5" cy="486.2" r="6.45"/><circle class="N r" cx="688.5" cy="486.2" r="5.95"/>
<circle class="C f" cx="686.0" cy="471.2" r="12.45"/><circle class="C r" cx="686.0" cy="471.2" r="11.95"/>
<circle class="C f" cx="698.5" cy="477.5" r="12.45"/><circle class="C r" cx="698.5" cy="477.5" r="11.95"/>
<circle class="C f" cx="692.2" cy="495.0" r="12.45"/><circle class="C r" cx="692.2" cy="495.0" r="11.95"/>
<circle class="C f" cx="690.0" cy="502.0" r="12.45"/><circle class="C r" cx="690.0" cy="502.0" r="11.95"/>
<circle class="C f" cx="696.0" cy="494.0" r="12.45"/><circle class="C r" cx="696.0" cy="494.0" r="11.95"/>
<circle class="C f" cx="692.0" cy="484.0" r="12.45"/><circle class="C r" cx="692.0" cy="484.0" r="11.95"/>
<circle class="C f" cx="689.8" cy="505.0" r="12.45"/><circle class="C r" cx="689.8" cy="505.0" r="11.95"/>
<circle class="C f" cx="694.8" cy="517.5" r="12.45"/><circle class="C r" cx="694.8" cy="517.5" r="11.95"/>
<circle class="N f" cx="755.4" cy="475.0" r="12.45"/><circle class="N r" cx="755.4" cy="475.0" r="11.95"/>
<circle class="C f" cx="756.0" cy="476.9" r="12.45"/><circle class="C r" cx="756.0" cy="476.9" r="11.95"/>
<circle class="C f" cx="741.6" cy="487.5" r="12.45"/><circle class="C r" cx="741.6" cy="487.5" r="11.95"/>
<circle class="F f" cx="735.4" cy="490.4" r="6.45"/><circle class="F r" cx="735.4" cy="490.4" r="5.95"/>
<circle class="C f" cx="743.5" cy="490.0" r="6.45"/><circle class="C r" cx="743.5" cy="490.0" r="5.95"/>
<circle class="N f" cx="766.6" cy="491.2" r="6.45"/><circle class="N r" cx="766.6" cy="491.2" r="5.95"/>
<circle class="C f" cx="758.5" cy="488.8" r="12.45"/><circle class="C r" cx="758.5" cy="488.8" r="11.95"/>
<circle class="N f" cx="744.5" cy="511.9" r="12.45"/><circle class="N r" cx="744.5" cy="511.9" r="11.95"/>
<circle class="C f" cx="749.1" cy="505.6" r="6.45"/><circle class="C r" cx="749.1" cy="505.6" r="5.95"/>
<circle class="C f" cx="692.2" cy="527.5" r="12.45"/><circle class="C r" cx="692.2" cy="527.5" r="11.95"/>
<circle class="C f" cx="695.0" cy="530.0" r="12.45"/><circle class="C r" cx="695.0" cy="530.0" r="11.95"/>
<circle class="C f" cx="693.0" cy="545.0" r="12.45"/><circle class="C r" cx="693.0" cy="545.0" r="11.95"/>
<circle class="C f" cx="697.0" cy="560.0" r="12.45"/><circle class="C r" cx="697.0" cy="560.0" r="11.95"/>
<circle class="C f" cx="694.0" cy="572.0" r="12.45"/><circle class="C r" cx="694.0" cy="572.0" r="11.95"/>
<circle class="C f" cx="698.0" cy="582.0" r="12.45"/><circle class="C r" cx="698.0" cy="582.0" r="11.95"/>
<circle class="C f" cx="694.0" cy="592.0" r="12.45"/><circle class="C r" cx="694.0" cy="592.0" r="11.95"/>
<circle class="C f" cx="697.0" cy="602.0" r="12.45"/><circle class="C r" cx="697.0" cy="602.0" r="11.95"/>
<circle class="C f" cx="699.0" cy="616.0" r="12.45"/><circle class="C r" cx="699.0" cy="616.0" r="11.95"/>
<circle class="C f" cx="696.0" cy="636.0" r="12.45"/><circle class="C r" cx="696.0" cy="636.0" r="11.95"/>
<circle class="C f" cx="689.0" cy="536.0" r="12.45"/><circle class="C r" cx="689.0" cy="536.0" r="11.95"/>
<circle class="C f" cx="703.0" cy="552.0" r="12.45"/><circle class="C r" cx="703.0" cy="552.0" r="11.95"/>
<circle class="C f" cx="690.0" cy="558.0" r="12.45"/><circle class="C r" cx="690.0" cy="558.0" r="11.95"/>
<circle class="C f" cx="703.0" cy="566.0" r="12.45"/><circle class="C r" cx="703.0" cy="566.0" r="11.95"/>
<circle class="C f" cx="690.0" cy="580.0" r="12.45"/><circle class="C r" cx="690.0" cy="580.0" r="11.95"/>
<circle class="C f" cx="704.0" cy="596.0" r="12.45"/><circle class="C r" cx="704.0" cy="596.0" r="11.95"/>
<circle class="C f" cx="690.0" cy="604.0" r="12.45"/><circle class="C r" cx="690.0" cy="604.0" r="11.95"/>
<circle class="C f" cx="703.0" cy="612.0" r="12.45"/><circle class="C r" cx="703.0" cy="612.0" r="11.95"/>
<circle class="C f" cx="699.8" cy="532.5" r="12.45"/><circle class="C r" cx="699.8" cy="532.5" r="11.95"/>
<circle class="C f" cx="688.5" cy="541.2" r="12.45"/><circle class="C r" cx="688.5" cy="541.2" r="11.95"/>
<circle class="C f" cx="701.0" cy="542.5" r="12.45"/><circle class="C r" cx="701.0" cy="542.5" r="11.95"/>
<circle class="C f" cx="692.2" cy="548.8" r="12.45"/><circle class="C r" cx="692.2" cy="548.8" r="11.95"/>
<circle class="C f" cx="706.0" cy="568.8" r="12.45"/><circle class="C r" cx="706.0" cy="568.8" r="11.95"/>
<circle class="C f" cx="692.2" cy="567.5" r="12.45"/><circle class="C r" cx="692.2" cy="567.5" r="11.95"/>
<circle class="C f" cx="689.8" cy="573.8" r="12.45"/><circle class="C r" cx="689.8" cy="573.8" r="11.95"/>
<circle class="C f" cx="701.0" cy="575.0" r="12.45"/><circle class="C r" cx="701.0" cy="575.0" r="11.95"/>
<circle class="C f" cx="693.5" cy="585.0" r="12.45"/><circle class="C r" cx="693.5" cy="585.0" r="11.95"/>
<circle class="C f" cx="702.2" cy="587.5" r="12.45"/><circle class="C r" cx="702.2" cy="587.5" r="11.95"/>
<circle class="C f" cx="692.2" cy="597.5" r="12.45"/><circle class="C r" cx="692.2" cy="597.5" r="11.95"/>
<circle class="F f" cx="760.0" cy="521.0" r="12.45"/><circle class="F r" cx="760.0" cy="521.0" r="11.95"/>
<circle class="C f" cx="762.2" cy="523.8" r="12.45"/><circle class="C r" cx="762.2" cy="523.8" r="11.95"/>
<circle class="C f" cx="758.5" cy="532.5" r="12.45"/><circle class="C r" cx="758.5" cy="532.5" r="11.95"/>
<circle class="N f" cx="728.5" cy="531.2" r="12.45"/><circle class="N r" cx="728.5" cy="531.2" r="11.95"/>
<circle class="N f" cx="731.0" cy="528.8" r="12.45"/><circle class="N r" cx="731.0" cy="528.8" r="11.95"/>
<circle class="N f" cx="744.1" cy="531.9" r="12.45"/><circle class="N r" cx="744.1" cy="531.9" r="11.95"/>
<circle class="N f" cx="746.0" cy="520.0" r="12.45"/><circle class="N r" cx="746.0" cy="520.0" r="11.95"/>
<circle class="C f" cx="724.8" cy="542.5" r="6.45"/><circle class="C r" cx="724.8" cy="542.5" r="5.95"/>
<circle class="C f" cx="734.1" cy="542.5" r="6.45"/><circle class="C r" cx="734.1" cy="542.5" r="5.95"/>
<circle class="C f" cx="751.0" cy="551.2" r="12.45"/><circle class="C r" cx="751.0" cy="551.2" r="11.95"/>
<circle class="L f" cx="756.0" cy="548.0" r="12.45"/><circle class="L r" cx="756.0" cy="548.0" r="11.95"/>
<circle class="F f" cx="756.6" cy="548.8" r="12.45"/><circle class="F r" cx="756.6" cy="548.8" r="11.95"/>
<circle class="C f" cx="746.0" cy="560.0" r="6.45"/><circle class="C r" cx="746.0" cy="560.0" r="5.95"/>
<circle class="N f" cx="766.6" cy="559.4" r="6.45"/><circle class="N r" cx="766.6" cy="559.4" r="5.95"/>
<circle class="C f" cx="732.2" cy="574.4" r="12.45"/><circle class="C r" cx="732.2" cy="574.4" r="11.95"/>
<circle class="N f" cx="744.5" cy="581.2" r="12.45"/><circle class="N r" cx="744.5" cy="581.2" r="11.95"/>
<circle class="C f" cx="757.9" cy="574.4" r="6.45"/><circle class="C r" cx="757.9" cy="574.4" r="5.95"/>
<circle class="C f" cx="763.5" cy="588.1" r="6.45"/><circle class="C r" cx="763.5" cy="588.1" r="5.95"/>
<circle class="C f" cx="766.6" cy="591.9" r="6.45"/><circle class="C r" cx="766.6" cy="591.9" r="5.95"/>
<circle class="L f" cx="960.6" cy="116.5" r="6.45"/><circle class="L r" cx="960.6" cy="116.5" r="5.95"/>
<circle class="L f" cx="994.4" cy="138.5" r="6.45"/><circle class="L r" cx="994.4" cy="138.5" r="5.95"/>
<circle class="N f" cx="920.6" cy="170.4" r="6.45"/><circle class="N r" cx="920.6" cy="170.4" r="5.95"/>
<circle class="N f" cx="858.5" cy="192.3" r="6.45"/><circle class="N r" cx="858.5" cy="192.3" r="5.95"/>
<circle class="L f" cx="891.5" cy="205.2" r="6.45"/><circle class="L r" cx="891.5" cy="205.2" r="5.95"/>
<circle class="L f" cx="925.6" cy="203.3" r="6.45"/><circle class="L r" cx="925.6" cy="203.3" r="5.95"/>
<circle class="L f" cx="857.5" cy="217.3" r="6.45"/><circle class="L r" cx="857.5" cy="217.3" r="5.95"/>
<circle class="N f" cx="813.3" cy="230.4" r="6.45"/><circle class="N r" cx="813.3" cy="230.4" r="5.95"/>
<circle class="L f" cx="823.5" cy="232.5" r="6.45"/><circle class="L r" cx="823.5" cy="232.5" r="5.95"/>
<circle class="N f" cx="886.5" cy="233.3" r="6.45"/><circle class="N r" cx="886.5" cy="233.3" r="5.95"/>
<circle class="R f" cx="878.5" cy="258.3" r="6.45"/><circle class="R r" cx="878.5" cy="258.3" r="5.95"/>
<circle class="N f" cx="819.6" cy="269.2" r="6.45"/><circle class="N r" cx="819.6" cy="269.2" r="5.95"/>
<circle class="R f" cx="842.5" cy="267.3" r="6.45"/><circle class="R r" cx="842.5" cy="267.3" r="5.95"/>
<circle class="R f" cx="801.5" cy="280.2" r="6.45"/><circle class="R r" cx="801.5" cy="280.2" r="5.95"/>
<circle class="C f" cx="925.6" cy="270.0" r="6.45"/><circle class="C r" cx="925.6" cy="270.0" r="5.95"/>
<circle class="N f" cx="928.5" cy="280.2" r="6.45"/><circle class="N r" cx="928.5" cy="280.2" r="5.95"/>
<circle class="R f" cx="961.5" cy="272.3" r="6.45"/><circle class="R r" cx="961.5" cy="272.3" r="5.95"/>
<circle class="N f" cx="988.5" cy="265.2" r="6.45"/><circle class="N r" cx="988.5" cy="265.2" r="5.95"/>
<circle class="N f" cx="984.4" cy="292.0" r="6.45"/><circle class="N r" cx="984.4" cy="292.0" r="5.95"/>
<circle class="N f" cx="1005.2" cy="300.2" r="6.45"/><circle class="N r" cx="1005.2" cy="300.2" r="5.95"/>
<circle class="N f" cx="1014.4" cy="305.2" r="6.45"/><circle class="N r" cx="1014.4" cy="305.2" r="5.95"/>
<circle class="N f" cx="974.4" cy="317.3" r="6.45"/><circle class="N r" cx="974.4" cy="317.3" r="5.95"/>
<circle class="N f" cx="825.4" cy="308.3" r="6.45"/><circle class="N r" cx="825.4" cy="308.3" r="5.95"/>
<circle class="N f" cx="856.5" cy="304.2" r="6.45"/><circle class="N r" cx="856.5" cy="304.2" r="5.95"/>
<circle class="N f" cx="850.4" cy="312.5" r="6.45"/><circle class="N r" cx="850.4" cy="312.5" r="5.95"/>
<circle class="N f" cx="892.3" cy="320.2" r="6.45"/><circle class="N r" cx="892.3" cy="320.2" r="5.95"/>
<circle class="C f" cx="903.5" cy="327.3" r="6.45"/><circle class="C r" cx="903.5" cy="327.3" r="5.95"/>
<circle class="R f" cx="920.4" cy="324.4" r="6.45"/><circle class="R r" cx="920.4" cy="324.4" r="5.95"/>
<circle class="F f" cx="891.7" cy="344.2" r="6.45"/><circle class="F r" cx="891.7" cy="344.2" r="5.95"/>
<circle class="N f" cx="884.4" cy="348.5" r="6.45"/><circle class="N r" cx="884.4" cy="348.5" r="5.95"/>
<circle class="N f" cx="863.3" cy="349.2" r="6.45"/><circle class="N r" cx="863.3" cy="349.2" r="5.95"/>
<circle class="N f" cx="821.2" cy="350.2" r="6.45"/><circle class="N r" cx="821.2" cy="350.2" r="5.95"/>
<circle class="C f" cx="827.5" cy="356.2" r="6.45"/><circle class="C r" cx="827.5" cy="356.2" r="5.95"/>
<circle class="C f" cx="823.3" cy="364.4" r="6.45"/><circle class="C r" cx="823.3" cy="364.4" r="5.95"/>
<circle class="R f" cx="845.4" cy="363.3" r="6.45"/><circle class="R r" cx="845.4" cy="363.3" r="5.95"/>
<circle class="N f" cx="901.5" cy="373.3" r="6.45"/><circle class="N r" cx="901.5" cy="373.3" r="5.95"/>
<circle class="N f" cx="927.5" cy="369.4" r="6.45"/><circle class="N r" cx="927.5" cy="369.4" r="5.95"/>
<circle class="N f" cx="994.4" cy="365.2" r="6.45"/><circle class="N r" cx="994.4" cy="365.2" r="5.95"/>
<circle class="F f" cx="994.4" cy="376.5" r="6.45"/><circle class="F r" cx="994.4" cy="376.5" r="5.95"/>
<circle class="N f" cx="961.2" cy="377.5" r="6.45"/><circle class="N r" cx="961.2" cy="377.5" r="5.95"/>
<circle class="N f" cx="979.4" cy="383.5" r="6.45"/><circle class="N r" cx="979.4" cy="383.5" r="5.95"/>
<circle class="C f" cx="969.4" cy="391.2" r="6.45"/><circle class="C r" cx="969.4" cy="391.2" r="5.95"/>
<circle class="N f" cx="858.5" cy="383.5" r="6.45"/><circle class="N r" cx="858.5" cy="383.5" r="5.95"/>
<circle class="N f" cx="900.4" cy="396.2" r="6.45"/><circle class="N r" cx="900.4" cy="396.2" r="5.95"/>
<circle class="R f" cx="1001.5" cy="402.3" r="6.45"/><circle class="R r" cx="1001.5" cy="402.3" r="5.95"/>
<circle class="R f" cx="982.3" cy="416.2" r="6.45"/><circle class="R r" cx="982.3" cy="416.2" r="5.95"/>
<circle class="N f" cx="996.5" cy="426.2" r="6.45"/><circle class="N r" cx="996.5" cy="426.2" r="5.95"/>
<circle class="N f" cx="928.5" cy="417.5" r="6.45"/><circle class="N r" cx="928.5" cy="417.5" r="5.95"/>
<circle class="N f" cx="953.3" cy="418.5" r="6.45"/><circle class="N r" cx="953.3" cy="418.5" r="5.95"/>
<circle class="N f" cx="957.5" cy="438.3" r="6.45"/><circle class="N r" cx="957.5" cy="438.3" r="5.95"/>
<circle class="C f" cx="843.5" cy="402.3" r="6.45"/><circle class="C r" cx="843.5" cy="402.3" r="5.95"/>
<circle class="C f" cx="858.5" cy="408.3" r="6.45"/><circle class="C r" cx="858.5" cy="408.3" r="5.95"/>
<circle class="N f" cx="822.3" cy="408.3" r="6.45"/><circle class="N r" cx="822.3" cy="408.3" r="5.95"/>
<circle class="N f" cx="868.3" cy="440.2" r="6.45"/><circle class="N r" cx="868.3" cy="440.2" r="5.95"/>
<circle class="C f" cx="895.4" cy="439.2" r="6.45"/><circle class="C r" cx="895.4" cy="439.2" r="5.95"/>
<circle class="C f" cx="895.4" cy="458.2" r="6.45"/><circle class="C r" cx="895.4" cy="458.2" r="5.95"/>
<circle class="F f" cx="928.5" cy="463.2" r="6.45"/><circle class="F r" cx="928.5" cy="463.2" r="5.95"/>
<circle class="N f" cx="882.3" cy="467.1" r="6.45"/><circle class="N r" cx="882.3" cy="467.1" r="5.95"/>
<circle class="N f" cx="825.4" cy="452.0" r="6.45"/><circle class="N r" cx="825.4" cy="452.0" r="5.95"/>
<circle class="L f" cx="826.3" cy="448.6" r="6.45"/><circle class="L r" cx="826.3" cy="448.6" r="5.95"/>
<circle class="C f" cx="925.6" cy="478.3" r="6.45"/><circle class="C r" cx="925.6" cy="478.3" r="5.95"/>
<circle class="F f" cx="859.4" cy="484.2" r="6.45"/><circle class="F r" cx="859.4" cy="484.2" r="5.95"/>
<circle class="F f" cx="960.6" cy="484.2" r="6.45"/><circle class="F r" cx="960.6" cy="484.2" r="5.95"/>
<circle class="C f" cx="793.3" cy="486.4" r="12.45"/><circle class="C r" cx="793.3" cy="486.4" r="11.95"/>
<circle class="C f" cx="825.4" cy="503.4" r="6.45"/><circle class="C r" cx="825.4" cy="503.4" r="5.95"/>
<circle class="C f" cx="987.5" cy="496.0" r="6.45"/><circle class="C r" cx="987.5" cy="496.0" r="5.95"/>
<circle class="C f" cx="988.3" cy="506.5" r="6.45"/><circle class="C r" cx="988.3" cy="506.5" r="5.95"/>
<circle class="N f" cx="1009.4" cy="498.1" r="6.45"/><circle class="N r" cx="1009.4" cy="498.1" r="5.95"/>
<circle class="C f" cx="1006.5" cy="507.3" r="6.45"/><circle class="C r" cx="1006.5" cy="507.3" r="5.95"/>
<circle class="C f" cx="968.3" cy="525.4" r="6.45"/><circle class="C r" cx="968.3" cy="525.4" r="5.95"/>
<circle class="L f" cx="905.6" cy="561.2" r="6.45"/><circle class="L r" cx="905.6" cy="561.2" r="5.95"/>
<circle class="R f" cx="881.2" cy="565.2" r="6.45"/><circle class="R r" cx="881.2" cy="565.2" r="5.95"/>
<circle class="R f" cx="845.4" cy="570.2" r="6.45"/><circle class="R r" cx="845.4" cy="570.2" r="5.95"/>
<circle class="R f" cx="978.5" cy="578.3" r="6.45"/><circle class="R r" cx="978.5" cy="578.3" r="5.95"/>
<circle class="C f" cx="857.3" cy="601.5" r="6.45"/><circle class="C r" cx="857.3" cy="601.5" r="5.95"/>
<circle class="C f" cx="960.6" cy="617.3" r="6.45"/><circle class="C r" cx="960.6" cy="617.3" r="5.95"/>
<circle class="C f" cx="741.5" cy="53.5" r="6.45"/><circle class="C r" cx="741.5" cy="53.5" r="5.95"/>
<circle class="C f" cx="748.5" cy="168.5" r="6.45"/><circle class="C r" cx="748.5" cy="168.5" r="5.95"/>
</g>
<g fill="#333" shape-rendering="crispEdges">
<rect x="102" y="14" width="1" height="860"/><rect x="102" y="14" width="957" height="1"/><rect x="1057" y="14" width="2" height="860"/><rect x="102" y="872" width="957" height="2"/>
<rect x="201" y="874" width="2" height="7"/>
<rect x="429" y="874" width="2" height="7"/>
<rect x="657" y="874" width="2" height="7"/>
<rect x="885" y="874" width="2" height="7"/>
<rect x="94" y="28" width="8" height="2"/>
<rect x="94" y="324" width="8" height="2"/>
<rect x="94" y="620" width="8" height="2"/>
</g>
<text transform="translate(202.3,906.0) scale(0.98,1)" font-size="23.47" text-anchor="middle" fill="#4D4D4D" stroke="#4D4D4D" stroke-width="0.25">1200</text>
<text transform="translate(430.3,906.0) scale(0.98,1)" font-size="23.47" text-anchor="middle" fill="#4D4D4D" stroke="#4D4D4D" stroke-width="0.25">1400</text>
<text transform="translate(658.3,906.0) scale(0.98,1)" font-size="23.47" text-anchor="middle" fill="#4D4D4D" stroke="#4D4D4D" stroke-width="0.25">1600</text>
<text transform="translate(886.3,906.0) scale(0.98,1)" font-size="23.47" text-anchor="middle" fill="#4D4D4D" stroke="#4D4D4D" stroke-width="0.25">1800</text>
<text transform="translate(88.0,38.6)" font-size="23.47" text-anchor="end" fill="#4D4D4D" stroke="#4D4D4D" stroke-width="0.25">200</text>
<text transform="translate(88.0,334.6)" font-size="23.47" text-anchor="end" fill="#4D4D4D" stroke="#4D4D4D" stroke-width="0.25">150</text>
<text transform="translate(88.0,630.6)" font-size="23.47" text-anchor="end" fill="#4D4D4D" stroke="#4D4D4D" stroke-width="0.25">100</text>
<text transform="translate(580.2,939.3) scale(0.98,1)" font-size="29.33" text-anchor="middle" fill="#000" stroke="#000" stroke-width="0.25">Date</text>
<text transform="translate(37.2,444.6) rotate(-90) scale(0.969,1)" font-size="29.33" text-anchor="middle" fill="#000" stroke="#000" stroke-width="0.25">Prepositions</text>
<text transform="translate(1102.4,237.2) scale(0.982,1)" font-size="29.33" text-anchor="start" fill="#000" stroke="#000" stroke-width="0.25">GenreRedux</text>
<g stroke-width="1" fill-opacity="0.6" stroke-opacity="0.6">
<circle class="C f" cx="1125.4" cy="276.0" r="5.1"/><circle class="C r" cx="1125.4" cy="276.0" r="4.6"/>
<circle class="F f" cx="1125.4" cy="322.0" r="5.1"/><circle class="F r" cx="1125.4" cy="322.0" r="4.6"/>
<circle class="L f" cx="1125.4" cy="368.0" r="5.1"/><circle class="L r" cx="1125.4" cy="368.0" r="4.6"/>
<circle class="N f" cx="1125.4" cy="414.3" r="5.1"/><circle class="N r" cx="1125.4" cy="414.3" r="4.6"/>
<circle class="R f" cx="1125.4" cy="460.5" r="5.1"/><circle class="R r" cx="1125.4" cy="460.5" r="4.6"/>
</g>
<text transform="translate(1162.1,285.5) scale(0.974,1)" font-size="23.47" text-anchor="start" fill="#000" stroke="#000" stroke-width="0.25">Conversational</text>
<text transform="translate(1162.1,331.5) scale(0.974,1)" font-size="23.47" text-anchor="start" fill="#000" stroke="#000" stroke-width="0.25">Fiction</text>
<text transform="translate(1162.1,377.5) scale(0.974,1)" font-size="23.47" text-anchor="start" fill="#000" stroke="#000" stroke-width="0.25">Legal</text>
<text transform="translate(1162.1,423.8) scale(0.974,1)" font-size="23.47" text-anchor="start" fill="#000" stroke="#000" stroke-width="0.25">NonFiction</text>
<text transform="translate(1162.1,470.0) scale(0.974,1)" font-size="23.47" text-anchor="start" fill="#000" stroke="#000" stroke-width="0.25">Religious</text>
<text transform="translate(1102.4,567.9) scale(0.984,1)" font-size="29.33" text-anchor="start" fill="#000" stroke="#000" stroke-width="0.25">Region</text>
<g stroke-width="1" fill-opacity="0.6" stroke-opacity="0.6">
<circle class="K f" cx="1125.5" cy="608.4" r="6.45"/><circle class="K r" cx="1125.5" cy="608.4" r="5.95"/>
<circle class="K f" cx="1125.5" cy="654.6" r="12.45"/><circle class="K r" cx="1125.5" cy="654.6" r="11.95"/>
</g>
<text transform="translate(1162.6,617.7) scale(0.965,1)" font-size="23.47" text-anchor="start" fill="#000" stroke="#000" stroke-width="0.25">North</text>
<text transform="translate(1162.0,663.9) scale(0.962,1)" font-size="23.47" text-anchor="start" fill="#000" stroke="#000" stroke-width="0.25">South</text>
</svg></body></html>
